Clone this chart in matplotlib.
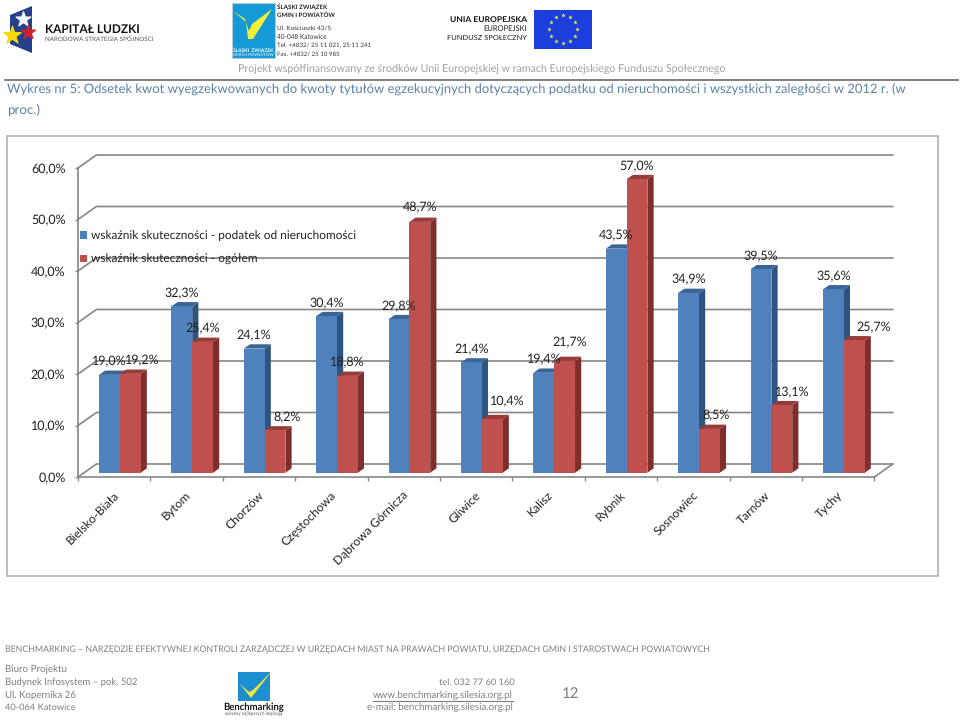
import matplotlib
matplotlib.use("Agg")
import matplotlib.pyplot as plt
from matplotlib.patches import Rectangle, Polygon, Patch
from matplotlib.transforms import ScaledTranslation
import numpy as np

cities = ["Bielsko-Biała", "Bytom", "Chorzów", "Częstochowa", "Dąbrowa Górnicza", "Gliwice",
          "Kalisz", "Rybnik", "Sosnowiec", "Tarnów", "Tychy"]
podatek = [19.0, 32.3, 24.1, 30.4, 29.8, 21.4, 19.4, 43.5, 34.9, 39.5, 35.6]
ogolem = [19.2, 25.4, 8.2, 18.8, 48.7, 10.4, 21.7, 57.0, 8.5, 13.1, 25.7]
series_names = ["wskaźnik skuteczności - podatek od nieruchomości", "wskaźnik skuteczności - ogółem"]
y_ticks = [0, 10, 20, 30, 40, 50, 60]

# label nudges for the second series, in pixels
red_dx = [12.5, 0, 12, 0, 0, 15.5, 5, 0, 7, 10, 19]
red_dy = [0, 0, 0, 0, 1, 5, 5, 0, 0, 0, 0]

W, H = 960, 720
FONT = "Lato"
plt.rcParams["font.family"] = [FONT, "DejaVu Sans"]
plt.rcParams["text.hinting"] = "no_hinting"
fig = plt.figure(figsize=(W / 100, H / 100), dpi=100, facecolor="white")

# overlay in pixel coordinates for the page furniture
pg = fig.add_axes([0, 0, 1, 1], zorder=0)
pg.set_xlim(0, W)
pg.set_ylim(H, 0)
pg.axis("off")


def txt(x, y, s, px, color="#7f7f7f", ha="left", weight="normal", width=None, **kw):
    t = pg.text(x, y, s, fontsize=px * 0.72, color=color, ha=ha, va="center", weight=weight, **kw)
    if width:
        r = fig.canvas.get_renderer()
        t.set_fontsize(t.get_fontsize() * width / t.get_window_extent(r).width)
    return t


# chart frame
pg.add_patch(Rectangle((6.5, 135.5), 931.5, 440, fc="white", ec="#b0b0b0", lw=1.2))

# Kapitał Ludzki logo
pg.add_patch(Polygon([[10, 15], [32, 6], [32, 53], [10, 44]], fc="#27408b", ec="none"))
pg.scatter([23], [19], marker="*", s=120, c="white", zorder=3)
pg.scatter([12], [35], marker="*", s=170, c="#f5d90a", zorder=3)
pg.scatter([28], [32], marker="*", s=110, c="#d0202a", zorder=3)
txt(45, 29, "KAPITAŁ LUDZKI", 15, color="#111111", width=95, weight="bold")
txt(45, 39.5, "NARODOWA STRATEGIA SPÓJNOŚCI", 7, color="#555555", width=108)

# Śląski Związek logo
pg.add_patch(Rectangle((232, 3), 43, 55, fc="#159ad7", ec="#cccccc", lw=0.5))
pg.add_patch(Polygon([[233, 11], [246, 22], [248, 39], [253, 39], [272, 9], [252, 24], [249, 31], [245, 19]],
                     fc="#f4ef3a", ec="none"))
txt(233, 50, "ŚLĄSKI  ZWIĄZEK", 4, color="white", width=41, weight="bold")
txt(233, 55, "GMIN I POWIATÓW", 4, color="white", width=41)
txt(277, 6.5, "ŚLĄSKI ZWIĄZEK", 7.5, color="#222222", weight="bold", width=50)
txt(277, 15.5, "GMIN I POWIATÓW", 7.5, color="#222222", weight="bold", width=58)
txt(277, 28, "Ul. Kościuszki 43/5", 8, color="#333333", width=54)
txt(277, 37, "40-048 Katowice", 8, color="#333333", width=50)
txt(277, 45.5, "Tel. +4832/ 25 11 021, 25 11 241", 8, color="#333333", width=94)
txt(277, 54.5, "Fax. +4832/ 25 10 985", 8, color="#333333", width=63)

# UE block
txt(527, 20, "UNIA EUROPEJSKA", 9, color="#111111", ha="right", weight="bold", width=77)
txt(527, 29, "EUROPEJSKI", 8.5, color="#222222", ha="right", width=44)
txt(527, 38, "FUNDUSZ SPOŁECZNY", 8.5, color="#222222", ha="right", width=80)
pg.add_patch(Rectangle((534, 10), 58, 38.5, fc="#1a3fdc", ec="none"))
angles = np.deg2rad(np.arange(0, 360, 30))
pg.scatter(563 + 14 * np.cos(angles), 29 + 14 * np.sin(angles), marker="*", s=12, c="#f7e948",
           linewidths=0, zorder=3)

# header
txt(482, 69, "Projekt współfinansowany ze środków Unii Europejskiej w ramach Europejskiego Funduszu Społecznego",
    12, color="#a0a0a0", ha="center", width=490)
pg.plot([5, 958], [79.5, 79.5], color="#808080", lw=1.4)
txt(7, 89, "Wykres nr 5: Odsetek kwot wyegzekwowanych do kwoty tytułów egzekucyjnych dotyczących podatku "
    "od nieruchomości i wszystkich zaległości w 2012 r. (w", 15, color="#5b81a8", width=901)
txt(7, 110, "proc.)", 15, color="#5b81a8", width=33)

# footer
txt(5, 650, "BENCHMARKING – NARZĘDZIE EFEKTYWNEJ KONTROLI ZARZĄDCZEJ W URZĘDACH MIAST NA PRAWACH POWIATU, "
    "URZĘDACH GMIN I STAROSTWACH POWIATOWYCH", 10.5, width=702)
for yy, s, w in [(669, "Biuro Projektu", 62), (682, "Budynek Infosystem – pok. 502", 133),
                 (695, "Ul. Kopernika 26", 71), (707.5, "40-064 Katowice", 71)]:
    txt(5, yy, s, 11, width=w)
txt(515, 682, "tel. 032 77 60 160", 11, ha="right", width=76)
txt(513, 695, "www.benchmarking.silesia.org.pl", 11, ha="right", width=140)
pg.plot([373, 513], [700.5, 700.5], color="#7f7f7f", lw=0.8)
txt(513, 707.5, "e-mail: benchmarking.silesia.org.pl", 11, ha="right", width=147)
txt(570, 694, "12", 15, ha="center")
pg.add_patch(Rectangle((238, 672), 32, 29, fc="#1e8fd0", ec="none"))
pg.add_patch(Polygon([[240, 684], [251, 698], [272, 671], [253, 690], [249, 692]], fc="#f1e63a", ec="none", zorder=3))
txt(254, 707.5, "Benchmarking", 11, color="#111111", ha="center", weight="bold", width=61)
txt(254, 714, "sukcesy najlepszych inspirują", 4, color="#555555", ha="center", width=58)

# chart axes: value 0 at y=477, 60 at y=168; categories between x=78 and x=874.4
ax = fig.add_axes([78 / W, (H - 477) / H, (874.4 - 78) / W, 309 / H], zorder=2)
ax.patch.set_alpha(0)
ax.set_xlim(0, 11)
ax.set_ylim(0, 60)

PX = 72.4          # pixels per category
PY = 309 / 60      # pixels per percent
back_x, back_y = 18.4 / PX, 13 / PY
grid_c = "#868686"

# back wall gridlines and side-wall diagonals
for v in y_ticks:
    ax.plot([0, back_x, 11 + back_x], [v, v + back_y, v + back_y], color=grid_c, lw=1.2,
            clip_on=False, zorder=1, solid_joinstyle="miter")
ax.plot([11, 11 + back_x], [0, back_y], color=grid_c, lw=1.2, clip_on=False, zorder=1)

# bars with extruded side and top faces
base = 4.3 / PY
bw = 0.2875
start = 0.29
dep_x, dep_y = 6.2 / PX, 4.3 / PY
x_pos = np.arange(len(cities), dtype=float)
styles = [("#4f81bd", "#2f5480", "#3b6596"), ("#c0504d", "#7e2f2d", "#983c3a")]
for k, (vals, (front, side, top)) in enumerate(zip([podatek, ogolem], styles)):
    z = 3 + k * 2
    left = x_pos + start + k * bw
    ax.bar(left, vals, width=bw, bottom=base, align="edge", color=front, linewidth=0, zorder=z + 1, clip_on=False)
    for xl, v in zip(left, vals):
        xr = xl + bw
        t = v + base
        ax.add_patch(Polygon([[xr, base], [xr + dep_x, base + dep_y], [xr + dep_x, t + dep_y], [xr, t]],
                             fc=side, ec="none", zorder=z, clip_on=False))
        ax.add_patch(Polygon([[xl, t], [xl + dep_x, t + dep_y], [xr + dep_x, t + dep_y], [xr, t]],
                             fc=top, ec="none", zorder=z, clip_on=False))

# data labels
for i in range(len(cities)):
    ax.annotate(f"{podatek[i]:.1f}%".replace(".", ","), (i + start + bw / 2, podatek[i] + base),
                xytext=(0, 13), textcoords="offset pixels", ha="center", va="center",
                fontsize=9.0, color="#222222", zorder=9, annotation_clip=False)
    ax.annotate(f"{ogolem[i]:.1f}%".replace(".", ","), (i + start + 1.5 * bw, ogolem[i] + base),
                xytext=(red_dx[i], 13 + red_dy[i]), textcoords="offset pixels", ha="center", va="center",
                fontsize=9.0, color="#222222", zorder=9, annotation_clip=False)

# spines and ticks
for s in ["top", "right"]:
    ax.spines[s].set_visible(False)
for s in ["left", "bottom"]:
    ax.spines[s].set_color(grid_c)
    ax.spines[s].set_linewidth(1.2)
    ax.spines[s].set_zorder(2)
ax.set_yticks(y_ticks)
ax.set_yticklabels([f"{v:.1f}%".replace(".", ",") for v in y_ticks], fontsize=9.0, color="#222222")
ax.tick_params(axis="y", length=2, width=1, color=grid_c, pad=7)
ax.set_xticks(np.arange(len(cities) + 1))
ax.set_xticklabels([])
ax.tick_params(axis="x", which="major", length=3, width=1, color=grid_c, direction="out")
ax.set_xticks(x_pos + 0.5, minor=True)
ax.set_xticklabels(cities, minor=True, rotation=45, ha="right", va="top", rotation_mode="anchor",
                   fontsize=8.7, color="#222222")
ax.tick_params(axis="x", which="minor", length=0, pad=9)
shift = ScaledTranslation(-1 / 100, 0, fig.dpi_scale_trans)
for lab in ax.get_xticklabels(minor=True):
    lab.set_transform(lab.get_transform() + shift)

# legend
leg = ax.legend(handles=[Patch(fc=styles[0][0], label=series_names[0]), Patch(fc=styles[1][0], label=series_names[1])],
                loc="upper left", bbox_to_anchor=(80 / W, (H - 230.5) / H), bbox_transform=fig.transFigure,
                frameon=False, fontsize=8.6, handlelength=0.6, handleheight=0.6, handletextpad=0.34,
                labelspacing=1.06, borderpad=0, borderaxespad=0, labelcolor="#222222")
leg.set_zorder(8)

fig.savefig("out.png", dpi=100, facecolor="white")
